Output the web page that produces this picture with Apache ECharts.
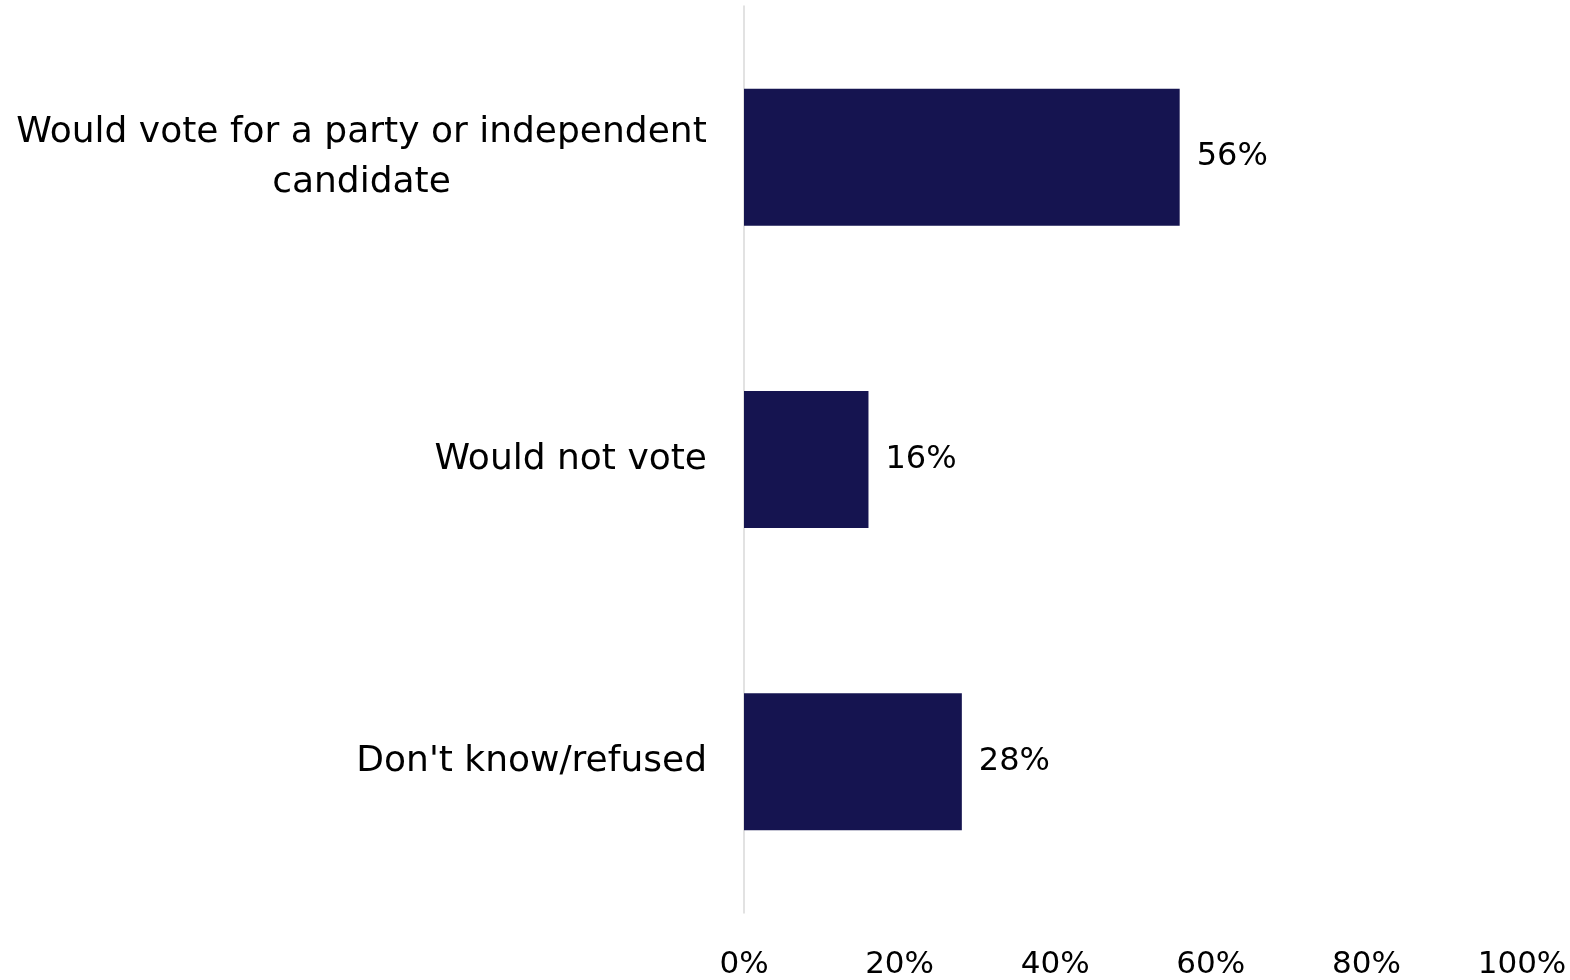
<!DOCTYPE html>
<html><head><meta charset="utf-8">
<script src="https://cdn.jsdelivr.net/npm/echarts@6/dist/echarts.min.js"></script>
<style>html,body{margin:0;padding:0;background:#fff}#c{width:1570px;height:980px}</style>
</head><body><div id="c"></div>
<script>
const categories = ['Would vote for a party or independent\ncandidate', 'Would not vote', "Don't know/refused"];
const values = [56, 16, 28];

const FONT = 'DejaVu Sans';
const CAT_SIZE = 36;
function measure(t, size) {
  const cv = document.createElement('canvas').getContext('2d');
  cv.font = size + 'px "' + FONT + '"';
  return cv.measureText(t).width;
}
const multiW = Math.ceil(Math.max.apply(null, categories.filter(c => c.indexOf('\n') >= 0)
  .map(c => Math.max.apply(null, c.split('\n').map(l => measure(l, CAT_SIZE))))));

const chart = echarts.init(document.getElementById('c'));
chart.setOption({
  animation: false,
  grid: { left: 744, right: 48, top: 6, bottom: 67, containLabel: false },
  xAxis: {
    type: 'value', min: 0, max: 100, interval: 20,
    axisLine: { show: false }, axisTick: { show: false }, splitLine: { show: false },
    axisLabel: { formatter: '{value}%', fontFamily: FONT, fontSize: 31, color: '#000', margin: 36 }
  },
  yAxis: {
    type: 'category', inverse: true, data: categories,
    axisLine: { show: true, lineStyle: { color: '#d9d9d9', width: 1.5 } },
    axisTick: { show: false },
    axisLabel: {
      margin: 37, color: '#000', fontFamily: FONT, fontSize: CAT_SIZE, lineHeight: 50,
      formatter: function (v) {
        if (v.indexOf('\n') < 0) return v;
        return v.split('\n').map(l => '{m|' + l + '}').join('\n');
      },
      rich: { m: { width: multiW, align: 'center', fontFamily: FONT, fontSize: CAT_SIZE, color: '#000', lineHeight: 50 } }
    }
  },
  series: [{
    type: 'bar', data: values, barWidth: 137,
    itemStyle: { color: '#151450' },
    label: { show: true, position: 'right', distance: 17, formatter: '{c}%', fontFamily: FONT, fontSize: 32, color: '#000' }
  }]
});
</script></body></html>
